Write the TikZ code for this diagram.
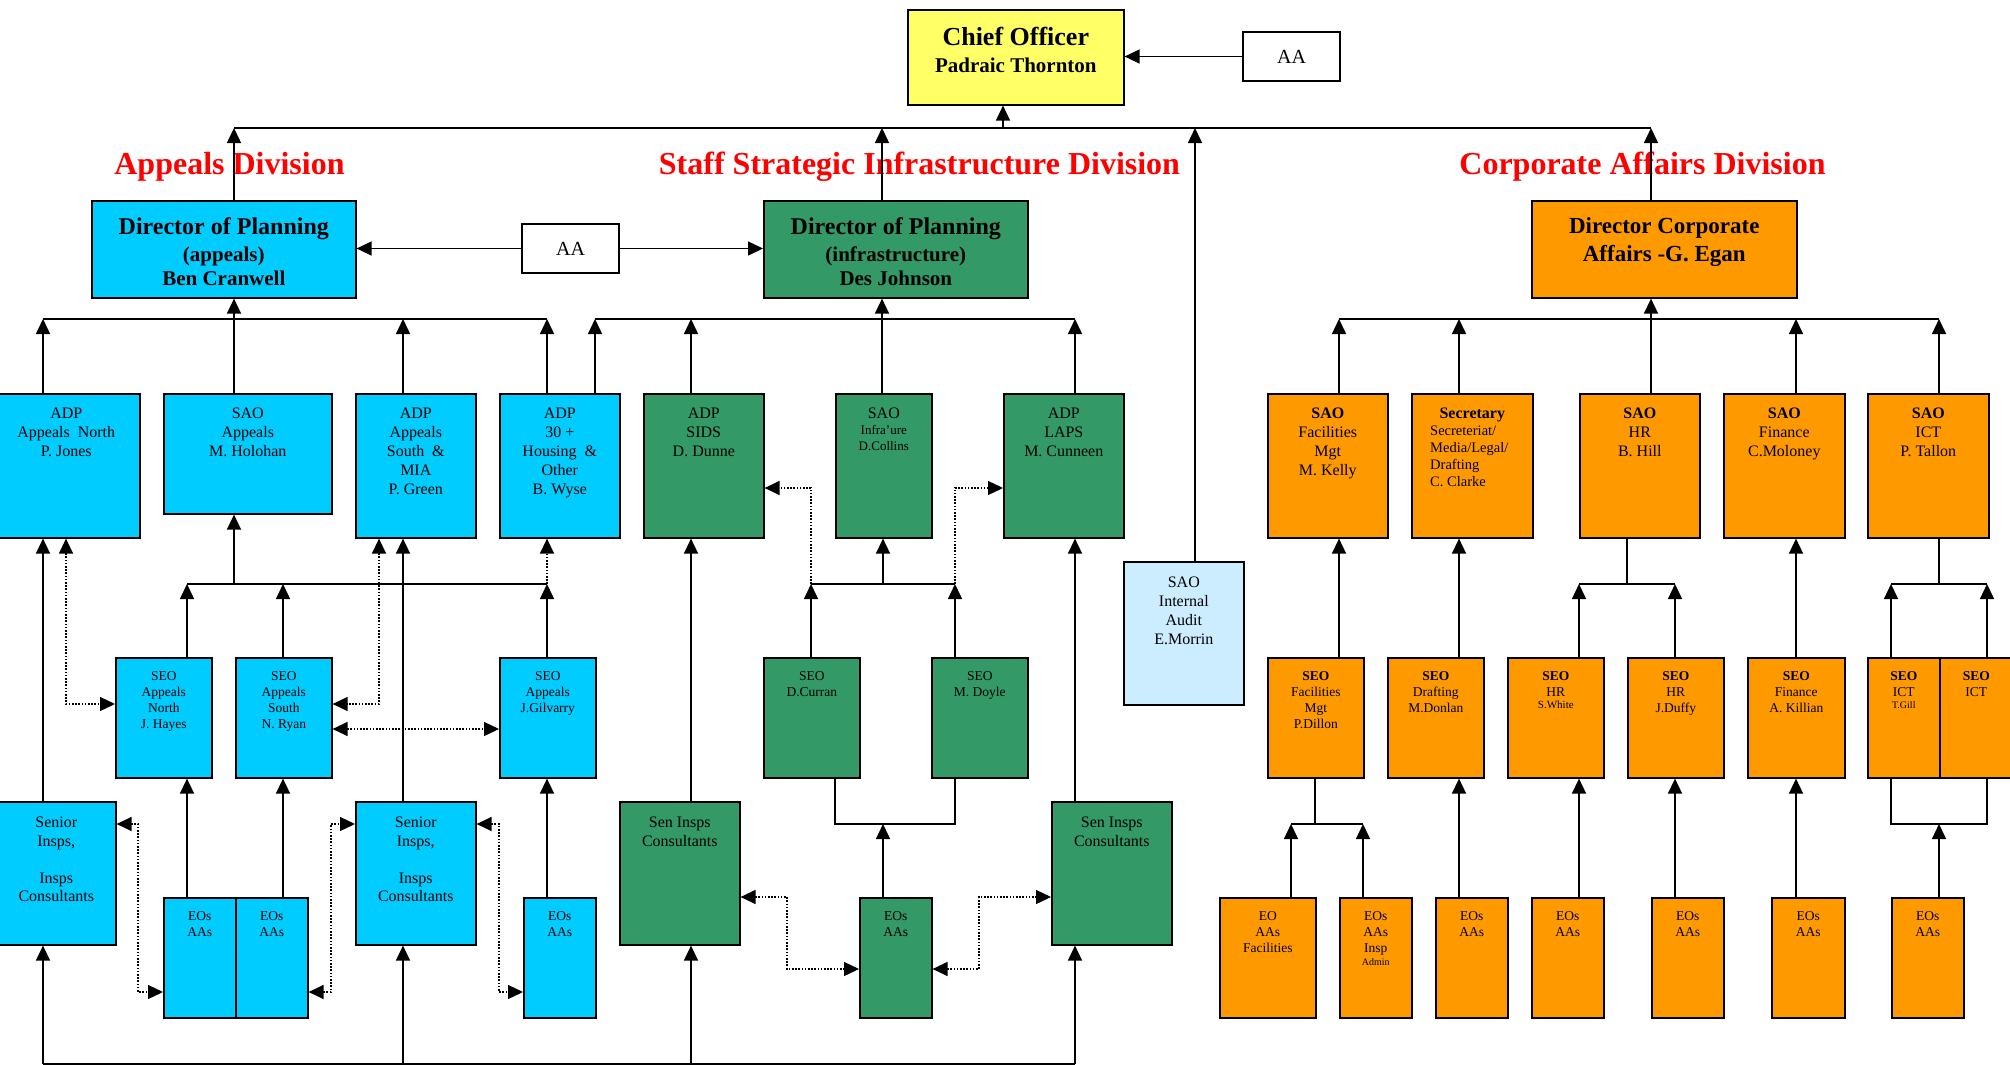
\documentclass[tikz,border=0pt]{standalone}
\usepackage{fontspec}
\setmainfont{Liberation Serif}
\usetikzlibrary{arrows.meta}
\definecolor{cy}{HTML}{00CCFF}
\definecolor{gr}{HTML}{339966}
\definecolor{orng}{HTML}{FF9900}
\definecolor{yel}{HTML}{FFFF66}
\definecolor{lb}{HTML}{CCECFF}
\newcommand\Bx[9]{%
  \node[bx,#6,anchor=north west,minimum width={#4-#2},minimum height={#5-#3}] (#1) at (#2,#3) {};
  \node[tx,#7,anchor=north] (#1-t) at ([yshift=-#8pt]#1.north) {#9};}
\tikzset{
  bx/.style={draw=black,line width=1.6pt,inner sep=0pt},
  tx/.style={inner sep=0pt,align=center,font=\fontsize{16}{19}\selectfont},
  t13/.style={font=\fontsize{13.5}{16}\selectfont},
  tsi/.style={font=\fontsize{16}{18.5}\selectfont},
  div/.style={inner sep=0pt,anchor=base,text=red,font=\fontsize{32}{36}\selectfont\bfseries},
  ln/.style={line width=1.5pt},
  ar/.style={line width=1.5pt,-{Triangle[length=15pt,width=14pt]}},
  dt/.style={line width=1.3pt,dash pattern=on 1.6pt off 1.6pt},
  dsa/.style={dt,-{Triangle[length=15pt,width=14pt]}},
  dar/.style={dt,{Triangle[length=15pt,width=14pt]}-{Triangle[length=15pt,width=14pt]}},
}
\begin{document}
\begin{tikzpicture}[x=1pt,y=-1pt]
\useasboundingbox (0,0) rectangle (2010,1065);
% division labels
\node[div] (lblA) at (229.5,174) {Appeals Division};
\node[div] (lblI) at (919.5,174) {Staff Strategic Infrastructure Division};
\node[div] (lblC) at (1642.5,174) {Corporate Affairs Division};
% top
\Bx{chief}{907}{9}{1123}{104}{fill=yel}{font=\bfseries\fontsize{21}{27}\selectfont}{18}{{\fontsize{26}{27}\selectfont Chief Officer}\\Padraic Thornton}
\node[bx,fill=white,minimum width=97,minimum height=49,font=\fontsize{20}{24}\selectfont] (aa1) at (1291.5,56.5) {AA};
\Bx{dirA}{91}{200}{355}{297}{fill=cy}{font=\bfseries\fontsize{21}{24}\selectfont}{17.5}{{\fontsize{24}{27}\selectfont Director of Planning}\\[3pt](appeals)\\Ben Cranwell}
\node[bx,fill=white,minimum width=97,minimum height=49,font=\fontsize{20}{24}\selectfont] (aa2) at (570.5,248.5) {AA};
\Bx{dirI}{763}{200}{1027}{297}{fill=gr}{font=\bfseries\fontsize{21}{24}\selectfont}{17.5}{{\fontsize{24}{27}\selectfont Director of Planning}\\[3pt](infrastructure)\\Des Johnson}
\Bx{dirC}{1531}{200}{1796}{297}{fill=orng}{font=\bfseries\fontsize{23}{28}\selectfont}{17.5}{Director Corporate\\Affairs -G. Egan}
% second row
\Bx{adpN}{-8}{393}{139}{537}{fill=cy}{}{15}{ADP\\Appeals~ North\\P. Jones}
\Bx{saoA}{163}{393}{331}{513}{fill=cy}{}{15}{SAO\\Appeals\\M. Holohan}
\Bx{adpS}{355}{393}{475}{537}{fill=cy}{}{15}{ADP\\Appeals\\South~ \&\\MIA\\P. Green}
\Bx{adpT}{499}{393}{619}{537}{fill=cy}{}{15}{ADP\\30 +\\Housing~ \&\\Other\\B. Wyse}
\Bx{adpSIDS}{643}{393}{763}{537}{fill=gr}{}{15}{ADP\\SIDS\\D. Dunne}
\Bx{saoI}{835}{393}{931}{537}{fill=gr}{font=\fontsize{13}{16}\selectfont}{15}{{\fontsize{16}{19}\selectfont SAO}\\Infra’ure\\D.Collins}
\Bx{adpL}{1003}{393}{1123}{537}{fill=gr}{}{15}{ADP\\LAPS\\M. Cunneen}
\Bx{audit}{1123}{561}{1243}{704}{fill=lb}{}{16}{SAO\\Internal\\Audit\\E.Morrin}
\Bx{saoF}{1267}{393}{1387}{537}{fill=orng}{}{15}{\textbf{SAO}\\Facilities\\Mgt\\M. Kelly}
\Bx{sec}{1411}{393}{1532}{537}{fill=orng}{}{15}{\textbf{Secretary}}
\node[tx,anchor=north west,align=left,font=\fontsize{14.5}{17}\selectfont] (sec-t2) at (1430,426) {Secreteriat/\\Media/Legal/\\Drafting\\C. Clarke};
\Bx{saoHR}{1579}{393}{1699}{537}{fill=orng}{}{15}{\textbf{SAO}\\HR\\B. Hill}
\Bx{saoFin}{1723}{393}{1844}{537}{fill=orng}{}{15}{\textbf{SAO}\\Finance\\C.Moloney}
\Bx{saoICT}{1867}{393}{1988}{537}{fill=orng}{}{15}{\textbf{SAO}\\ICT\\P. Tallon}
% third row
\Bx{seoN}{115}{657}{211}{777}{fill=cy}{t13}{14.5}{SEO\\Appeals\\North\\J. Hayes}
\Bx{seoS}{235}{657}{331}{777}{fill=cy}{t13}{14.5}{SEO\\Appeals\\South\\N. Ryan}
\Bx{seoG}{499}{657}{595}{777}{fill=cy}{t13}{14.5}{SEO\\Appeals\\J.Gilvarry}
\Bx{seoC}{763}{657}{859}{777}{fill=gr}{t13}{14.5}{SEO\\D.Curran}
\Bx{seoD}{931}{657}{1027}{777}{fill=gr}{t13}{14.5}{SEO\\M. Doyle}
\Bx{seoFM}{1267}{657}{1363}{777}{fill=orng}{t13}{14.5}{\textbf{SEO}\\Facilities\\Mgt\\P.Dillon}
\Bx{seoDr}{1387}{657}{1483}{777}{fill=orng}{t13}{14.5}{\textbf{SEO}\\Drafting\\M.Donlan}
\Bx{seoW}{1507}{657}{1603}{777}{fill=orng}{t13}{14.5}{\textbf{SEO}\\HR\\[-4pt]{\fontsize{11}{12}\selectfont S.White}}
\Bx{seoJ}{1627}{657}{1723}{777}{fill=orng}{t13}{14.5}{\textbf{SEO}\\HR\\J.Duffy}
\Bx{seoK}{1747}{657}{1844}{777}{fill=orng}{t13}{14.5}{\textbf{SEO}\\Finance\\A. Killian}
\Bx{seoT}{1867}{657}{1939}{777}{fill=orng}{t13}{14.5}{\textbf{SEO}\\ICT\\[-4pt]{\fontsize{10}{12}\selectfont T.Gill}}
\Bx{seoI}{1939}{657}{2012}{777}{fill=orng}{t13}{14.5}{\textbf{SEO}\\ICT}
% fourth row
\Bx{siA}{-4}{801}{115}{944}{fill=cy}{tsi}{16}{Senior\\Insps,\\[18.5pt]Insps\\Consultants}
\Bx{eoA}{163}{897}{235}{1017}{fill=cy}{t13}{14.5}{EOs\\AAs}
\Bx{eoB}{235}{897}{307}{1017}{fill=cy}{t13}{14.5}{EOs\\AAs}
\Bx{siB}{355}{801}{475}{944}{fill=cy}{tsi}{16}{Senior\\Insps,\\[18.5pt]Insps\\Consultants}
\Bx{eoC}{523}{897}{595}{1017}{fill=cy}{t13}{14.5}{EOs\\AAs}
\Bx{sgA}{619}{801}{739}{944}{fill=gr}{tsi}{16}{Sen Insps\\Consultants}
\Bx{eoG}{859}{897}{931}{1017}{fill=gr}{t13}{14.5}{EOs\\AAs}
\Bx{sgB}{1051}{801}{1171}{944}{fill=gr}{tsi}{16}{Sen Insps\\Consultants}
\Bx{eoF}{1219}{897}{1315}{1017}{fill=orng}{t13}{14.5}{EO\\AAs\\Facilities}
\Bx{eoI}{1339}{897}{1411}{1017}{fill=orng}{t13}{14.5}{EOs\\AAs\\Insp\\[-3pt]{\fontsize{10}{12}\selectfont Admin}}
\Bx{eoDr}{1435}{897}{1507}{1017}{fill=orng}{t13}{14.5}{EOs\\AAs}
\Bx{eoW}{1531}{897}{1603}{1017}{fill=orng}{t13}{14.5}{EOs\\AAs}
\Bx{eoJ}{1651}{897}{1723}{1017}{fill=orng}{t13}{14.5}{EOs\\AAs}
\Bx{eoK}{1771}{897}{1844}{1017}{fill=orng}{t13}{14.5}{EOs\\AAs}
\Bx{eoT}{1891}{897}{1963}{1017}{fill=orng}{t13}{14.5}{EOs\\AAs}
% bus coordinates
\coordinate (tbL) at (234,128); \coordinate (tbR) at (1651,128);
\coordinate (tbCh) at (1003,128); \coordinate (tbI) at (882,128); \coordinate (tbAu) at (1195,128);
\coordinate (bA1) at (43,319); \coordinate (bA2) at (547,319);
\coordinate (bI1) at (595,319); \coordinate (bI2) at (1075,319);
\coordinate (bC1) at (1339,319); \coordinate (bC2) at (1939,319);
% top connectors
\draw[ln] (tbL) -- (tbR);
\draw[ar] (dirA.north -| tbL) -- (tbL);
\draw[ar] (dirI.north -| tbI) -- (tbI);
\draw[ar] (dirC.north -| tbR) -- (tbR);
\draw[ar] (audit.north -| tbAu) -- (tbAu);
\draw[ar] (tbCh) -- (tbCh |- chief.south);
\draw[ar] (aa1.west) -- (aa1.west -| chief.east);
\draw[ar] (aa2.west) -- (aa2.west -| dirA.east);
\draw[ar] (aa2.east) -- (aa2.east -| dirI.west);
% second level buses
\draw[line width=1.2pt] (bA1) -- (bA2);
\draw[line width=1.2pt] (bI1) -- (bI2);
\draw[line width=1.2pt] (bC1) -- (bC2);
\draw[ar] (adpN.north -| bA1) -- (bA1);
\draw[ar] (adpS.north -| 403,0) -- (403,319);
\draw[ar] (adpT.north -| bA2) -- (bA2);
\draw[ar] (saoA.north -| 234,0) -- (234,0 |- dirA.south);
\draw[ar] (adpT.north -| bI1) -- (bI1);
\draw[ar] (adpSIDS.north -| 691,0) -- (691,319);
\draw[ar] (adpL.north -| bI2) -- (bI2);
\draw[ar] (saoI.north -| 882,0) -- (882,0 |- dirI.south);
\draw[ar] (saoF.north -| bC1) -- (bC1);
\draw[ar] (sec.north -| 1459,0) -- (1459,319);
\draw[ar] (saoFin.north -| 1796,0) -- (1796,319);
\draw[ar] (saoICT.north -| bC2) -- (bC2);
\draw[ar] (saoHR.north -| 1651,0) -- (1651,0 |- dirC.south);
% third level buses
\draw[ln] (187,584) -- (547,584);
\draw[ar] (seoN.north -| 187,0) -- (187,584);
\draw[ar] (seoS.north -| 283,0) -- (283,584);
\draw[ar] (seoG.north -| 547,0) -- (547,584);
\draw[ar] (234,584) -- (234,0 |- saoA.south);
\draw[dsa] (547,584) -- (547,0 |- adpT.south);
\draw[ln] (811,584) -- (955,584);
\draw[ar] (seoC.north -| 811,0) -- (811,584);
\draw[ar] (seoD.north -| 955,0) -- (955,584);
\draw[ar] (883,584) -- (883,0 |- saoI.south);
\draw[dsa] (811,584) -- (811,488) -- (adpSIDS.east |- 0,488);
\draw[dsa] (955,584) -- (955,488) -- (adpL.west |- 0,488);
\draw[ar] (seoFM.north -| 1339,0) -- (1339,0 |- saoF.south);
\draw[ar] (seoDr.north -| 1459,0) -- (1459,0 |- sec.south);
\draw[ln] (saoHR.south -| 1627,0) -- (1627,584);
\draw[ln] (1579,584) -- (1675,584);
\draw[ar] (seoW.north -| 1579,0) -- (1579,584);
\draw[ar] (seoJ.north -| 1675,0) -- (1675,584);
\draw[ar] (seoK.north -| 1796,0) -- (1796,0 |- saoFin.south);
\draw[ln] (saoICT.south -| 1939,0) -- (1939,584);
\draw[ln] (1891,584) -- (1987,584);
\draw[ar] (seoT.north -| 1891,0) -- (1891,584);
\draw[ar] (seoI.north -| 1987,0) -- (1987,584);
% fourth level
\draw[ar] (siA.north -| 43,0) -- (43,0 |- adpN.south);
\draw[ar] (eoA.north -| 187,0) -- (187,0 |- seoN.south);
\draw[ar] (eoB.north -| 283,0) -- (283,0 |- seoS.south);
\draw[ar] (siB.north -| 403,0) -- (403,0 |- adpS.south);
\draw[ar] (eoC.north -| 547,0) -- (547,0 |- seoG.south);
\draw[ar] (sgA.north -| 691,0) -- (691,0 |- adpSIDS.south);
\draw[ar] (sgB.north -| 1075,0) -- (1075,0 |- adpL.south);
\draw[ln] (seoC.south -| 835,0) -- (835,824) -- (955,824) -- (955,0 |- seoD.south);
\draw[ar] (eoG.north -| 883,0) -- (883,824);
\draw[ln] (43,1064) -- (1075,1064);
\draw[ar] (43,1064) -- (43,0 |- siA.south);
\draw[ar] (403,1064) -- (403,0 |- siB.south);
\draw[ar] (691,1064) -- (691,0 |- sgA.south);
\draw[ar] (1075,1064) -- (1075,0 |- sgB.south);
\draw[ln] (seoFM.south -| 1315,0) -- (1315,824);
\draw[ln] (1291,824) -- (1363,824);
\draw[ar] (eoF.north -| 1291,0) -- (1291,824);
\draw[ar] (eoI.north -| 1363,0) -- (1363,824);
\draw[ar] (eoDr.north -| 1459,0) -- (1459,0 |- seoDr.south);
\draw[ar] (eoW.north -| 1579,0) -- (1579,0 |- seoW.south);
\draw[ar] (eoJ.north -| 1675,0) -- (1675,0 |- seoJ.south);
\draw[ar] (eoK.north -| 1796,0) -- (1796,0 |- seoK.south);
\draw[ln] (seoT.south -| 1891,0) -- (1891,824) -- (1987,824) -- (1987,0 |- seoI.south);
\draw[ar] (eoT.north -| 1939,0) -- (1939,824);
% dotted links
\draw[dar] (adpN.south -| 66,0) -- (66,704) -- (66,704 -| seoN.west);
\draw[dar] (adpS.south -| 379,0) -- (379,704) -- (379,704 -| seoS.east);
\draw[dar] (seoS.east |- 0,729) -- (seoG.west |- 0,729);
\draw[dar] (siA.east |- 0,824) -- (138,824) -- (138,992) -- (eoA.west |- 0,992);
\draw[dar] (eoB.east |- 0,992) -- (331,992) -- (331,824) -- (siB.west |- 0,824);
\draw[dar] (siB.east |- 0,824) -- (499,824) -- (499,992) -- (eoC.west |- 0,992);
\draw[dar] (sgA.east |- 0,897) -- (787,897) -- (787,969) -- (eoG.west |- 0,969);
\draw[dar] (eoG.east |- 0,969) -- (979,969) -- (979,897) -- (sgB.west |- 0,897);
\end{tikzpicture}
\end{document}
